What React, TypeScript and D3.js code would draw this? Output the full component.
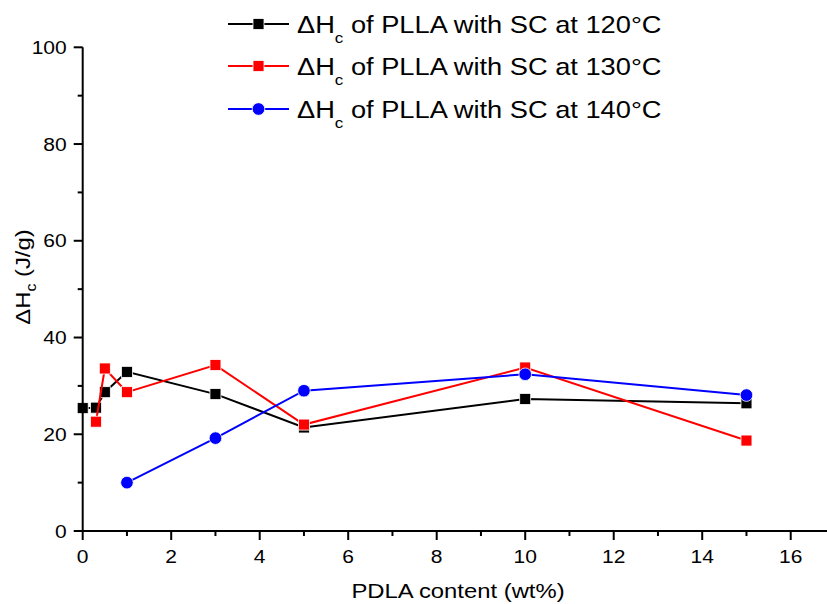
import React from "react";
import * as d3 from "d3";

const x120 = [0, 0.3, 0.5, 1, 3, 5, 10, 15];
const y120 = [25.4, 25.5, 28.7, 32.9, 28.3, 21.4, 27.3, 26.4];
const x130 = [0.3, 0.5, 1, 3, 5, 10, 15];
const y130 = [22.6, 33.6, 28.7, 34.3, 22.0, 33.8, 18.7];
const x140 = [1, 3, 5, 10, 15];
const y140 = [10.0, 19.2, 29.0, 32.4, 28.1];
const seriesLabels = ["120°C", "130°C", "140°C"];
const seriesColors = ["#000000", "#ff0000", "#0000ff"];
const xMajorTicks = [0, 2, 4, 6, 8, 10, 12, 14, 16];
const xMinorTicks = [1, 3, 5, 7, 9, 11, 13, 15];
const yMajorTicks = [0, 20, 40, 60, 80, 100];
const yMinorTicks = [10, 30, 50, 70, 90];

const W = 827;
const H = 604;
const FONT = "'Liberation Sans', Arial, sans-serif";
const SX = 1.135;

export default function App() {
  const x = d3.scaleLinear().domain([0, 16.82]).range([82.7, 827]);
  const y = d3.scaleLinear().domain([0, 100]).range([531, 47.3]);
  const line = d3
    .line<[number, number]>()
    .x((d) => x(d[0]))
    .y((d) => y(d[1]));

  const series = [
    { xs: x120, ys: y120, shape: "square" },
    { xs: x130, ys: y130, shape: "square" },
    { xs: x140, ys: y140, shape: "circle" },
  ];

  const ms = 11;
  const marker = (shape: string, cx: number, cy: number, color: string, key: string) =>
    shape === "square" ? (
      <rect key={key} x={cx - ms / 2} y={cy - ms / 2} width={ms} height={ms} fill={color} stroke="#fff" strokeWidth={0.8} />
    ) : (
      <circle key={key} cx={cx} cy={cy} r={ms / 2 + 0.8} fill={color} stroke="#fff" strokeWidth={0.8} />
    );

  const legendY = [24, 66, 109];

  return (
    <svg width={W} height={H} style={{ position: "absolute", left: 0, top: 0, background: "#fff" }} fontFamily={FONT}>
      <rect x={0} y={0} width={W} height={H} fill="#fff" />
      {/* series */}
      {series.map((s, i) => {
        const pts = s.xs.map((v, j) => [v, s.ys[j]] as [number, number]);
        return (
          <g key={i}>
            <path d={line(pts) || ""} fill="none" stroke={seriesColors[i]} strokeWidth={2} />
            {pts.map((p, j) => marker(s.shape, x(p[0]), y(p[1]), seriesColors[i], `m${i}-${j}`))}
          </g>
        );
      })}
      {/* axes */}
      <line x1={x(0)} x2={x(0)} y1={y(0) + 1} y2={y(100)} stroke="#000" strokeWidth={2} />
      <line x1={x(0) - 1} x2={W} y1={y(0)} y2={y(0)} stroke="#000" strokeWidth={2} />
      {yMajorTicks.map((t) => (
        <g key={`ym${t}`}>
          <line x1={x(0) - 9} x2={x(0)} y1={y(t)} y2={y(t)} stroke="#000" strokeWidth={2} />
          <g transform={`translate(${x(0) - 16},${y(t)}) scale(${SX},1)`}>
            <text dy="0.36em" textAnchor="end" fontSize={18.5} fill="#000">
              {t}
            </text>
          </g>
        </g>
      ))}
      {yMinorTicks.map((t) => (
        <line key={`yn${t}`} x1={x(0) - 5} x2={x(0)} y1={y(t)} y2={y(t)} stroke="#000" strokeWidth={2} />
      ))}
      {xMajorTicks.map((t) => (
        <g key={`xm${t}`}>
          <line x1={x(t)} x2={x(t)} y1={y(0)} y2={y(0) + 9} stroke="#000" strokeWidth={2} />
          <g transform={`translate(${x(t)},563) scale(${SX},1)`}>
            <text textAnchor="middle" fontSize={18.5} fill="#000">
              {t}
            </text>
          </g>
        </g>
      ))}
      {xMinorTicks.map((t) => (
        <line key={`xn${t}`} x1={x(t)} x2={x(t)} y1={y(0)} y2={y(0) + 5} stroke="#000" strokeWidth={2} />
      ))}
      {/* axis titles */}
      <g transform={`translate(458,598) scale(${SX},1)`}>
        <text textAnchor="middle" fontSize={21} fill="#000">
          PDLA content (wt%)
        </text>
      </g>
      <g transform={`translate(30,277) rotate(-90) scale(${SX},1)`}>
        <text textAnchor="middle" fontSize={21} fill="#000">
          ΔH
          <tspan fontSize={14} dy={6}>c</tspan>
          <tspan dy={-6}> (J/g)</tspan>
        </text>
      </g>
      {/* legend */}
      {seriesLabels.map((lab, i) => (
        <g key={`lg${i}`}>
          <line x1={228} x2={289} y1={legendY[i]} y2={legendY[i]} stroke={seriesColors[i]} strokeWidth={2} />
          {marker(series[i].shape, 258.5, legendY[i], seriesColors[i], `lm${i}`)}
          <g transform={`translate(297,${legendY[i] + 9}) scale(${SX},1)`}>
            <text fontSize={24} fill="#000">
              ΔH
              <tspan fontSize={15} dy={10}>c</tspan>
              <tspan dy={-10}>{` of PLLA with SC at ${lab}`}</tspan>
            </text>
          </g>
        </g>
      ))}
    </svg>
  );
}
